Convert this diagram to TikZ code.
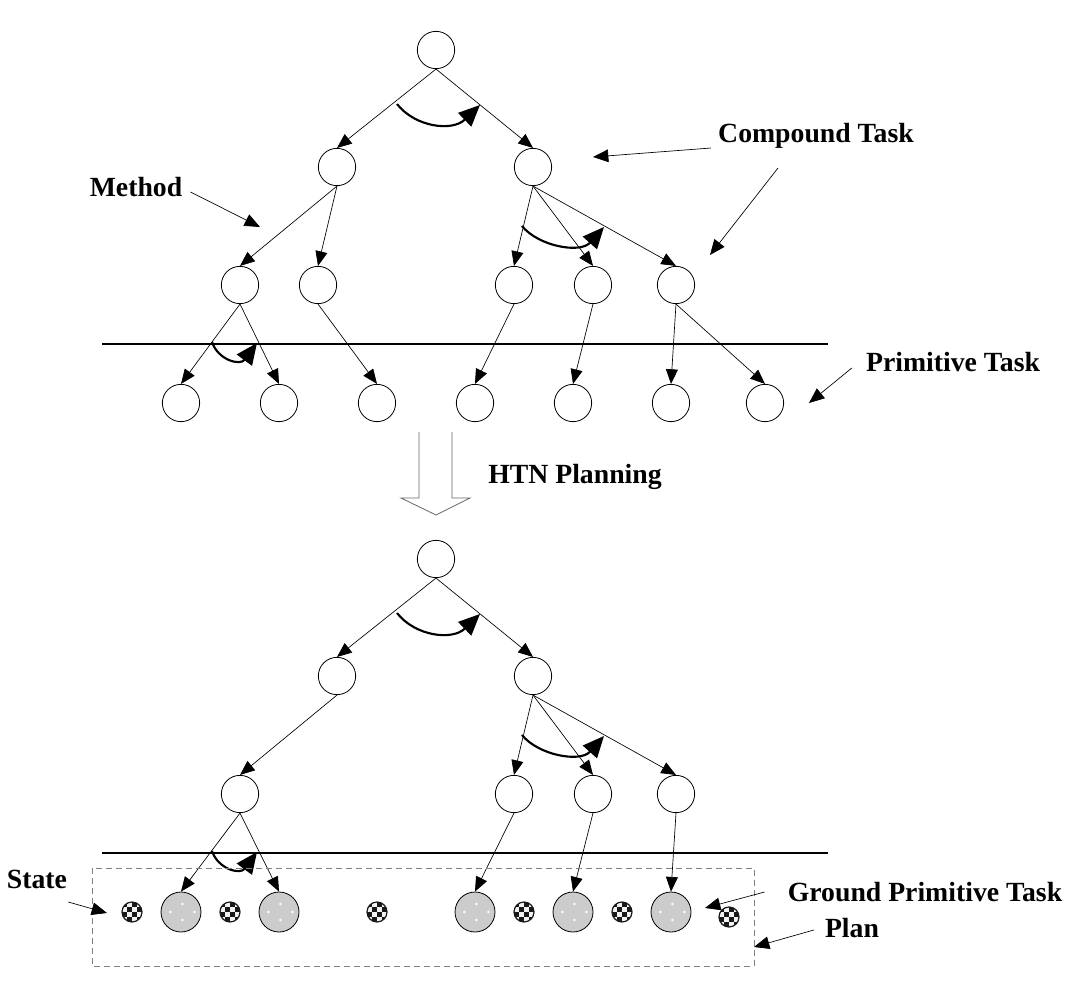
\documentclass[tikz,border=0pt]{standalone}
\usepackage{fontspec}
\setmainfont{Liberation Serif}
\usetikzlibrary{arrows.meta,calc}
\begin{document}
\begin{tikzpicture}[x=0.75pt,y=-0.75pt,
	tasknode/.style={circle,draw,line width=0.6pt,minimum size=28pt,inner sep=0pt},
	groundtask/.style={circle,draw,line width=0.6pt,fill=black!20,minimum size=30pt,inner sep=0pt,
		path picture={\foreach \dx/\dy in {1/6,-8/0,10/0,1/-6}
			\fill[white!85!yellow] ([shift={(\dx pt,\dy pt)}]path picture bounding box.center) circle (1.1pt);}},
	statenode/.style={circle,draw=black!90,line width=0.9pt,minimum size=15pt,inner sep=0pt,fill=white!90!gray,
		path picture={\foreach \i/\j in {0/1,1/0,1/2,2/1,0/3,3/0,2/3,3/2}
			\fill[black!90] ([shift={(\i*3.75pt-7.5pt,\j*3.75pt-7.5pt)}]path picture bounding box.center) rectangle +(3.75pt,3.75pt);}},
	link/.style={line width=0.5pt,-{Triangle[length=11pt,width=9pt]}},
	turn/.style={line width=1.6pt,-{Triangle[length=16pt,width=14pt]}},
	pointer/.style={line width=0.5pt,-{Triangle[length=11.5pt,width=9.5pt]}},
	lbl/.style={font=\bfseries\fontsize{20.8}{24}\selectfont,inner sep=0pt,anchor=base}]
\useasboundingbox (0,0) rectangle (1072,996);
\foreach \n/\x/\y in {r/436/50,a/337/167,b/533/167,a1/240/285,a2/318/285,b1/514/285,b2/593/285,b3/676/285,
	p1/181/403,p2/279/403,p3/377/403,p4/475/403,p5/573/403,p6/671/403,p7/765/403,
	R/436/559,A/337/676,B/533/676,A1/240/794,B1/514/794,B2/593/794,B3/676/794}
	\node[tasknode] (\n) at (\x,\y) {};
\foreach \n/\x in {g1/181,g2/279,g3/475,g4/573,g5/671}
	\node[groundtask] (\n) at (\x,912) {};
\foreach \n/\x/\y in {s1/132/912,s2/230/912,s3/377/912,s4/524/912,s5/622/912,s6/729/917}
	\node[statenode] (\n) at (\x,\y) {};
\foreach \p/\c in {r/a,r/b,a/a1,a/a2,b/b1,b/b2,b/b3,a1/p1,a1/p2,a2/p3,b1/p4,b2/p5,b3/p6,b3/p7,
	R/A,R/B,A/A1,B/B1,B/B2,B/B3,A1/g1,A1/g2,B1/g3,B2/g4,B3/g5}
	\draw[link] (\p.south) -- (\c.north);
\foreach \dy in {0,509}{
	\draw[turn] (397,104+\dy) .. controls (415,127+\dy) and (452,132+\dy) .. (480,105+\dy);
	\draw[turn] (522,226+\dy) .. controls (538,246+\dy) and (580,254+\dy) .. (604,227+\dy);
	\draw[turn] (212,342+\dy) .. controls (218,360+\dy) and (240,366+\dy) .. (257,343+\dy);
	\draw[line width=1.4pt] (102,344+\dy) -- (828,344+\dy);
}
\draw[black!50,line width=0.7pt,dash pattern=on 4.5pt off 3pt] (92,868) rectangle (754,966);
\draw[black!60,line width=0.6pt] (419,432) -- (419,498) -- (401,498) -- (436,515) -- (470,498) -- (452,498) -- (452,432);
\node[lbl] (ct) at (816,142) {Compound Task};
\node[lbl] (me) at (136,196) {Method};
\node[lbl] (pt) at (953,371) {Primitive Task};
\node[lbl] (htn) at (575,483) {HTN Planning};
\node[lbl] (st) at (37,888) {State};
\node[lbl] (gpt) at (925,901) {Ground Primitive Task};
\node[lbl] (pl) at (852,937) {Plan};
\foreach \n/\x/\y in {ct1/593/157,ct2/710/255,me1/260/227,pt1/809/403,st1/107/913,gp1/705/908,pl1/754/947}
	\coordinate (\n) at (\x,\y);
\draw[pointer] ($(ct.base west)+(-7,6)$) -- (ct1);
\draw[pointer] ($(ct.base)+(-38,26)$) -- (ct2);
\draw[pointer] ($(me.base east)+(8,-4)$) -- (me1);
\draw[pointer] ($(pt.base west)+(-14,-3)$) -- (pt1);
\draw[pointer] ($(st.base east)+(1,14)$) -- (st1);
\draw[pointer] ($(gpt.base west)+(-23,-9)$) -- (gp1);
\draw[pointer] ($(pl.base west)+(-11,-7)$) -- (pl1);
\end{tikzpicture}
\end{document}
